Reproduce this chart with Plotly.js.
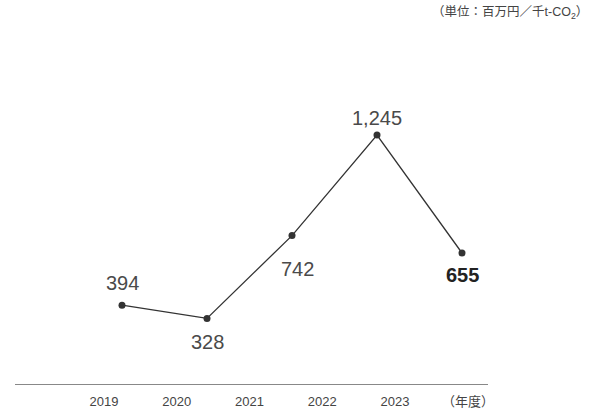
<!DOCTYPE html>
<html><head><meta charset="utf-8">
<script src="https://cdn.plot.ly/plotly-3.0.1.min.js"></script>
<style>html,body{margin:0;padding:0;background:#fff}</style>
</head><body>
<div id="chart" style="width:612px;height:411px"></div>
<script>
const years = [2019, 2020, 2021, 2022, 2023];
const yearLabels = ['2019', '2020', '2021', '2022', '2023'];
const values = [394, 328, 742, 1245, 655];
const valueLabels = ['394', '328', '742', '1,245', '<b>655</b>'];
const unitText = '（単位：百万円／千t-CO<sub>2</sub>）';
const axisUnit = '（年度）';

// label offsets (style)
const labelShiftX = [0, 0, 5, 0, 0];
const labelShiftY = [22, -24, -33, 17, -22];
const labelColors = ['#4a4a4a', '#4a4a4a', '#4a4a4a', '#4a4a4a', '#222'];

const FONT = 'Liberation Sans, Arial, Noto Sans CJK JP, sans-serif';

// invisible trace on the base axis so the year axis is drawn
const axisTrace = {
  x: years, y: values, xaxis: 'x', yaxis: 'y',
  type: 'scatter', mode: 'none', hoverinfo: 'skip', showlegend: false
};
const trace = {
  x: years, y: values, xaxis: 'x2', yaxis: 'y',
  type: 'scatter', mode: 'lines+markers',
  line: {color: '#333', width: 1.3},
  marker: {color: '#333', size: 7},
  cliponaxis: false, hoverinfo: 'skip'
};

const annotations = years.map((yr, i) => ({
  x: yr, y: values[i], xref: 'x2', yref: 'y',
  text: valueLabels[i], showarrow: false,
  xanchor: 'center', yanchor: 'middle',
  xshift: labelShiftX[i], yshift: labelShiftY[i],
  font: {family: FONT, size: 20, color: labelColors[i]}
}));
annotations.push({
  xref: 'paper', yref: 'paper', x: 468/612, y: 0, yshift: -17,
  xanchor: 'center', yanchor: 'middle', showarrow: false,
  text: axisUnit, font: {family: FONT, size: 13, color: '#444'}
});
annotations.push({
  xref: 'paper', yref: 'paper', x: 590/612, y: 1, yshift: -13,
  xanchor: 'right', yanchor: 'middle', showarrow: false,
  text: unitText, font: {family: FONT, size: 12.5, color: '#444'}
});

const layout = {
  width: 612, height: 411,
  margin: {l: 0, r: 0, t: 0, b: 27},
  paper_bgcolor: '#fff', plot_bgcolor: '#fff',
  showlegend: false,
  xaxis: {
    domain: [15/612, 488/612],
    range: [2017.7766, 2024.2784],
    tickvals: years, ticktext: yearLabels,
    showline: true, linecolor: '#888', linewidth: 1.3,
    showgrid: false, zeroline: false, ticks: '',
    ticklabelstandoff: 5,
    tickfont: {family: FONT, size: 13, color: '#444'},
    fixedrange: true
  },
  xaxis2: {
    overlaying: 'x', range: [2017.7412, 2023.3059],
    visible: false, fixedrange: true
  },
  yaxis: {
    range: [0, 1920], visible: false, fixedrange: true
  },
  annotations: annotations
};

Plotly.newPlot('chart', [axisTrace, trace], layout, {displayModeBar: false, staticPlot: true});
</script>
</body></html>
